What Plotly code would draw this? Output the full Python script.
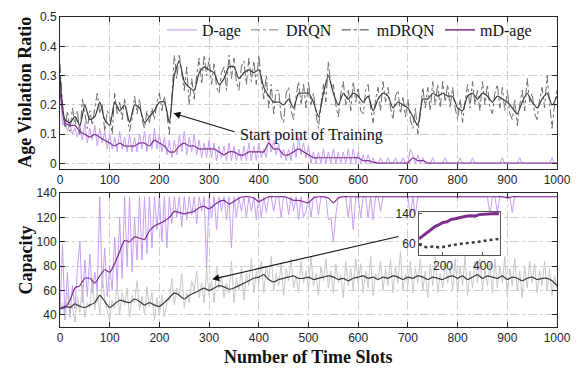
import plotly.graph_objects as go

# ---------------- data ----------------
x_raw = list(range(0, 1001, 5))
x_smooth = list(range(0, 1001, 10))

top_dage_raw = [
    0.28,0.13,0.15,0.11,0.14,0.10,0.12,0.09,0.13,0.08,0.14,0.07,0.12,0.08,0.13,0.06,0.12,0.07,0.11,0.05,
    0.10,0.05,0.09,0.04,0.11,0.05,0.09,0.04,0.10,0.04,0.09,0.04,0.10,0.05,0.11,0.04,0.10,0.05,0.12,0.05,
    0.10,0.04,0.09,0.03,0.08,0.02,0.08,0.03,0.10,0.04,0.11,0.03,0.09,0.04,0.10,0.03,0.08,0.02,0.07,0.02,
    0.08,0.02,0.07,0.01,0.06,0.02,0.06,0.01,0.07,0.01,0.06,0.01,0.05,0.01,0.06,0.01,0.07,0.01,0.06,0.01,
    0.07,0.02,0.05,0.02,0.10,0.04,0.08,0.03,0.07,0.02,0.05,0.01,0.05,0.01,0.07,0.02,0.09,0.03,0.07,0.02,
    0.06,0.00,0.04,0.00,0.04,0.00,0.05,0.00,0.04,0.00,0.05,0.00,0.04,0.00,0.04,0.00,0.05,0.00,0.05,0.00,
    0.04,0.00,0.03,0.00,0.03,0.00,0.02,0.00,0.00,0.02,0.00,0.00,0.02,0.00,0.00,0.02,0.00,0.00,0.02,0.00,
    0.00,0.05,0.03,0.00,0.03,0.00,0.02,0.00,0.00,0.00,0.02,0.00,0.00,0.00,0.00,0.02,0.00,0.00,0.00,0.00,
    0.00,0.02,0.00,0.00,0.00,0.00,0.02,0.00,0.00,0.00,0.00,0.00,0.00,0.00,0.00,0.00,0.00,0.00,0.02,0.00,
    0.00,0.00,0.00,0.00,0.00,0.02,0.00,0.00,0.00,0.00,0.00,0.00,0.00,0.00,0.00,0.00,0.00,0.00,0.02,0.00,
    0.00,
]

top_drqn_raw = [
    0.34,0.20,0.12,0.18,0.11,0.19,0.13,0.18,0.10,0.22,0.17,0.12,0.18,0.13,0.19,0.24,0.17,0.20,0.11,0.18,
    0.16,0.10,0.24,0.17,0.21,0.15,0.22,0.17,0.11,0.15,0.23,0.17,0.22,0.15,0.12,0.18,0.14,0.19,0.15,0.21,
    0.24,0.18,0.23,0.17,0.10,0.22,0.37,0.29,0.37,0.31,0.25,0.33,0.20,0.29,0.22,0.30,0.36,0.27,0.37,0.30,
    0.36,0.27,0.34,0.26,0.24,0.31,0.33,0.25,0.37,0.29,0.36,0.28,0.25,0.33,0.35,0.27,0.36,0.28,0.35,0.27,
    0.37,0.28,0.22,0.30,0.19,0.27,0.17,0.25,0.25,0.16,0.14,0.24,0.26,0.18,0.15,0.23,0.28,0.20,0.27,0.19,
    0.28,0.20,0.24,0.17,0.12,0.20,0.27,0.21,0.35,0.26,0.27,0.20,0.16,0.24,0.28,0.20,0.25,0.18,0.28,0.21,
    0.26,0.18,0.17,0.25,0.27,0.19,0.14,0.22,0.26,0.18,0.28,0.21,0.26,0.19,0.15,0.23,0.25,0.17,0.23,0.16,
    0.22,0.15,0.12,0.19,0.10,0.17,0.26,0.19,0.26,0.18,0.28,0.20,0.27,0.19,0.28,0.21,0.27,0.19,0.26,0.19,
    0.15,0.22,0.14,0.21,0.27,0.19,0.28,0.20,0.25,0.18,0.28,0.20,0.27,0.19,0.17,0.24,0.27,0.19,0.26,0.18,
    0.25,0.17,0.15,0.22,0.13,0.20,0.25,0.18,0.29,0.21,0.24,0.17,0.15,0.22,0.26,0.19,0.30,0.21,0.12,0.20,
    0.25,
]

top_mdrqn = [
    0.30,0.15,0.14,0.16,0.13,0.20,0.15,0.16,0.21,0.15,
    0.13,0.21,0.18,0.20,0.14,0.20,0.19,0.14,0.16,0.18,
    0.21,0.21,0.14,0.30,0.35,0.28,0.26,0.25,0.31,0.33,
    0.32,0.31,0.27,0.29,0.33,0.33,0.29,0.31,0.32,0.31,
    0.32,0.26,0.23,0.21,0.21,0.20,0.22,0.19,0.24,0.24,
    0.24,0.21,0.16,0.24,0.30,0.24,0.20,0.24,0.22,0.24,
    0.23,0.21,0.23,0.18,0.22,0.24,0.23,0.19,0.21,0.20,
    0.19,0.16,0.13,0.22,0.22,0.24,0.23,0.24,0.23,0.23,
    0.19,0.18,0.23,0.24,0.22,0.24,0.23,0.21,0.23,0.22,
    0.21,0.19,0.17,0.21,0.24,0.21,0.19,0.22,0.24,0.20,
    0.23,
]

top_mdage = [
    0.25,0.14,0.13,0.13,0.11,0.10,0.09,0.10,0.09,0.08,
    0.07,0.06,0.07,0.06,0.06,0.06,0.07,0.07,0.06,0.08,
    0.07,0.06,0.04,0.04,0.06,0.07,0.06,0.06,0.05,0.05,
    0.05,0.05,0.04,0.03,0.04,0.04,0.03,0.03,0.04,0.04,
    0.04,0.04,0.07,0.05,0.05,0.03,0.03,0.04,0.05,0.04,
    0.03,0.02,0.02,0.02,0.02,0.02,0.02,0.02,0.02,0.02,
    0.02,0.01,0.01,0.005,0.002,0.002,0.002,0.002,0.002,0.002,
    0.002,0.02,0.01,0.01,0.002,0.002,0.002,0.002,0.002,0.002,
    0.002,0.002,0.002,0.002,0.002,0.002,0.002,0.002,0.002,0.002,
    0.002,0.002,0.002,0.002,0.002,0.002,0.002,0.002,0.002,0.002,
    0.002,
]

bot_dage_raw = [
    40,98,36,75,38,64,45,78,100,50,85,55,90,58,75,60,137,62,95,55,
    80,60,104,65,120,70,137,80,137,75,120,85,137,85,137,90,137,95,137,110,
    137,100,137,95,137,115,137,120,137,112,137,118,137,122,137,115,137,125,137,78,
    137,120,137,110,137,125,137,118,137,95,137,120,137,125,137,120,137,125,137,118,
    137,120,137,124,137,137,125,137,137,120,137,137,122,137,125,137,118,137,120,125,
    137,120,137,137,122,137,137,137,118,120,100,122,137,137,137,137,120,137,110,137,
    137,120,137,137,120,137,118,137,137,125,137,137,137,137,137,137,137,137,137,137,
    137,120,137,122,137,137,137,137,137,137,137,137,137,137,137,137,137,137,137,137,
    137,137,137,137,137,137,137,137,137,137,137,137,137,122,137,137,124,137,137,137,
    137,137,124,137,137,137,137,137,137,137,137,137,137,137,137,137,137,137,137,137,
    137,
]

bot_drqn_raw = [
    40,50,36,58,44,47,34,55,42,64,38,50,46,70,44,60,40,72,52,43,
    35,52,45,66,40,58,48,62,38,56,50,68,44,55,40,63,46,58,36,54,
    40,56,38,50,52,70,48,62,56,74,46,58,50,68,60,76,54,66,50,78,
    56,68,50,80,62,72,54,66,58,84,50,70,60,78,52,74,64,86,58,76,
    66,84,58,80,70,88,60,74,64,82,56,78,68,86,62,72,58,84,66,76,
    60,88,64,74,56,80,68,86,62,76,58,82,66,72,54,84,64,78,60,86,
    66,82,58,76,62,88,56,74,68,84,60,78,64,86,58,80,66,92,60,74,
    64,84,58,78,66,86,60,76,54,82,64,88,58,74,62,84,66,80,60,86,
    58,80,64,88,56,76,62,84,66,86,60,78,64,82,58,86,62,80,66,88,
    56,78,64,86,60,76,54,80,62,84,66,82,58,76,64,84,60,78,56,72,
    62,
]

bot_mdage = [
    45,46,52,62,64,70,70,66,72,77,
    75,82,92,101,100,104,103,102,109,113,
    115,117,120,125,124,123,124,125,128,129,
    127,130,133,134,131,133,136,137,137,136,
    133,135,137,137,137,137,136,134,134,133,
    132,136,137,137,136,132,136,137,137,137,
    137,137,137,137,137,137,137,137,137,137,
    137,137,137,137,137,137,137,137,137,137,
    137,137,137,137,137,137,137,137,137,137,
    136,137,137,137,137,137,137,137,137,137,
    137,
]

bot_mdrqn = [
    45,47,46,49,47,46,48,50,56,51,
    46,49,52,51,50,53,51,48,50,48,
    47,50,54,58,56,53,56,58,60,62,
    60,62,64,63,61,62,64,66,68,70,
    71,73,69,67,69,70,71,72,70,70,
    71,69,70,71,72,71,69,70,68,70,
    71,72,70,71,69,71,70,72,71,69,
    71,70,72,71,69,71,70,69,71,72,
    70,72,69,71,73,70,72,71,70,72,
    69,71,70,68,70,71,69,70,70,68,
    64,
]

inset_x = list(range(80, 481, 20))
inset_mdage = [72, 80, 88, 95, 105, 110, 116, 118, 124, 126, 129,
               131, 133, 134, 133, 137, 138, 139, 138, 140, 139]
inset_mdrqn = [58, 52, 50, 52, 52, 49, 50, 52, 55, 56, 58,
               60, 60, 62, 63, 64, 66, 68, 70, 72, 72]

for arr in (top_dage_raw, top_drqn_raw, bot_dage_raw, bot_drqn_raw):
    assert len(arr) == len(x_raw), len(arr)
for arr in (top_mdrqn, top_mdage, bot_mdage, bot_mdrqn):
    assert len(arr) == len(x_smooth), len(arr)
assert len(inset_mdage) == len(inset_x) and len(inset_mdrqn) == len(inset_x)

x_ticks = list(range(0, 1001, 100))
top_y_ticks = [0, 0.1, 0.2, 0.3, 0.4, 0.5]
top_y_text = ["0", "0.1", "0.2", "0.3", "0.4", "0.5"]
bot_y_ticks = [40, 60, 80, 100, 120, 140]
legend_names = ["D-age", "DRQN", "mDRQN", "mD-age"]

# ---------------- styles ----------------
LIGHT_PURPLE = "#C89EF5"
PURPLE = "#7E2F8E"
GRAY_TOP = "#6B6B6B"
DARK = "#3A3A3A"
LIGHT_GRAY = "#C8C8C8"
SERIF = "Liberation Serif, Times New Roman, serif"
SANS = "Liberation Sans, Arial, sans-serif"

fig = go.Figure()

# top panel
fig.add_trace(go.Scatter(x=x_raw, y=top_dage_raw, mode="lines", xaxis="x", yaxis="y",
                         line=dict(color=LIGHT_PURPLE, width=1), showlegend=False))
fig.add_trace(go.Scatter(x=x_raw, y=top_drqn_raw, mode="lines", xaxis="x", yaxis="y",
                         line=dict(color=GRAY_TOP, width=1, dash="dashdot"), showlegend=False))
fig.add_trace(go.Scatter(x=x_smooth, y=top_mdrqn, mode="lines", xaxis="x", yaxis="y",
                         line=dict(color=DARK, width=1.2, shape="spline", smoothing=0.6), showlegend=False))
fig.add_trace(go.Scatter(x=x_smooth, y=top_mdage, mode="lines", xaxis="x", yaxis="y",
                         line=dict(color=PURPLE, width=1.2, shape="spline", smoothing=0.6), showlegend=False))

# bottom panel
fig.add_trace(go.Scatter(x=x_raw, y=bot_dage_raw, mode="lines", xaxis="x2", yaxis="y2",
                         line=dict(color=LIGHT_PURPLE, width=1), showlegend=False))
fig.add_trace(go.Scatter(x=x_raw, y=bot_drqn_raw, mode="lines", xaxis="x2", yaxis="y2",
                         line=dict(color=LIGHT_GRAY, width=1), showlegend=False))
fig.add_trace(go.Scatter(x=x_smooth, y=bot_mdrqn, mode="lines", xaxis="x2", yaxis="y2",
                         line=dict(color=DARK, width=1.2, shape="spline", smoothing=0.6), showlegend=False))
fig.add_trace(go.Scatter(x=x_smooth, y=bot_mdage, mode="lines", xaxis="x2", yaxis="y2",
                         line=dict(color=PURPLE, width=1.2, shape="spline", smoothing=0.6), showlegend=False))

# inset
fig.add_trace(go.Scatter(x=inset_x, y=inset_mdage, mode="lines", xaxis="x3", yaxis="y3",
                         line=dict(color=PURPLE, width=3), showlegend=False))
fig.add_trace(go.Scatter(x=inset_x, y=inset_mdrqn, mode="lines", xaxis="x3", yaxis="y3",
                         line=dict(color=DARK, width=2.5, dash="dot"), showlegend=False))

# legend entries
legend_styles = [
    dict(color=LIGHT_PURPLE, width=1.2),
    dict(color="#7A7A7A", width=1, dash="dashdot"),
    dict(color=DARK, width=1, dash="dashdot"),
    dict(color=PURPLE, width=1.5),
]
for name, st in zip(legend_names, legend_styles):
    fig.add_trace(go.Scatter(x=[None], y=[None], mode="lines", name=name, line=st,
                             xaxis="x", yaxis="y", showlegend=True))

axis_common = dict(
    showline=True, linecolor="#262626", linewidth=1, mirror="ticks",
    ticks="inside", ticklen=5, tickcolor="#262626",
    showgrid=True, gridcolor="#CFCFCF", griddash="dashdot", gridwidth=1,
    zeroline=False, tickfont=dict(family=SANS, size=12, color="#262626"),
)

fig.update_layout(
    width=584, height=369,
    margin=dict(l=60, r=27, t=10, b=42),
    paper_bgcolor="white", plot_bgcolor="white",
    xaxis=dict(domain=[0, 1], range=[0, 1000], tickvals=x_ticks, anchor="y", **axis_common),
    yaxis=dict(domain=[0.511, 1.0], range=[-0.017, 0.5], tickvals=top_y_ticks,
               ticktext=top_y_text, anchor="x", **axis_common),
    xaxis2=dict(domain=[0, 1], range=[0, 1000], tickvals=x_ticks, anchor="y2", **axis_common),
    yaxis2=dict(domain=[0, 0.432], range=[30, 140], tickvals=bot_y_ticks, anchor="x2", **axis_common),
    xaxis3=dict(domain=[0.7223, 0.8853], range=[80, 485], tickvals=[200, 400], anchor="y3",
                showline=True, linecolor="#555555", linewidth=1, mirror=True,
                ticks="inside", ticklen=3, tickcolor="#555555", showgrid=False, zeroline=False,
                tickfont=dict(family=SANS, size=12, color="#262626")),
    yaxis3=dict(domain=[0.2334, 0.3722], range=[30, 145], tickvals=[60, 140], anchor="x3",
                showline=True, linecolor="#555555", linewidth=1, mirror=True,
                ticks="inside", ticklen=3, tickcolor="#555555", showgrid=False, zeroline=False,
                tickfont=dict(family=SANS, size=12, color="#262626")),
    legend=dict(orientation="h", x=0.205, y=1.013, xanchor="left", yanchor="top",
                bgcolor="rgba(0,0,0,0)", borderwidth=0,
                font=dict(family=SERIF, size=16, color="#111111")),
    showlegend=True,
)

annotations = [
    # top arrow
    dict(x=228, y=0.172, ax=354, ay=0.107, xref="x", yref="y", axref="x", ayref="y",
         text="", showarrow=True, arrowhead=2, arrowsize=1.3, arrowwidth=1.1, arrowcolor="#111111"),
    dict(x=358, y=0.097, xref="x", yref="y", text="Start point of Training", showarrow=False,
         xanchor="left", yanchor="middle", font=dict(family=SERIF, size=16, color="#111111")),
    # bottom arrow
    dict(x=306, y=69.2, ax=684, ay=104.6, xref="x2", yref="y2", axref="x2", ayref="y2",
         text="", showarrow=True, arrowhead=2, arrowsize=1.3, arrowwidth=1.1, arrowcolor="#111111"),
    # axis titles
    dict(x=-0.0704, y=0.7555, xref="paper", yref="paper", text="<b>Age Violation Ratio</b>",
         textangle=-90, showarrow=False, xanchor="center", yanchor="middle",
         font=dict(family=SERIF, size=18, color="#111111")),
    dict(x=-0.0704, y=0.2145, xref="paper", yref="paper", text="<b>Capacity</b>",
         textangle=-90, showarrow=False, xanchor="center", yanchor="middle",
         font=dict(family=SERIF, size=18, color="#111111")),
    dict(x=0.499, y=-0.0978, xref="paper", yref="paper", text="<b>Number of Time Slots</b>",
         showarrow=False, xanchor="center", yanchor="middle",
         font=dict(family=SERIF, size=18, color="#111111")),
]
fig.update_layout(annotations=annotations)

fig.write_html("out.html")
